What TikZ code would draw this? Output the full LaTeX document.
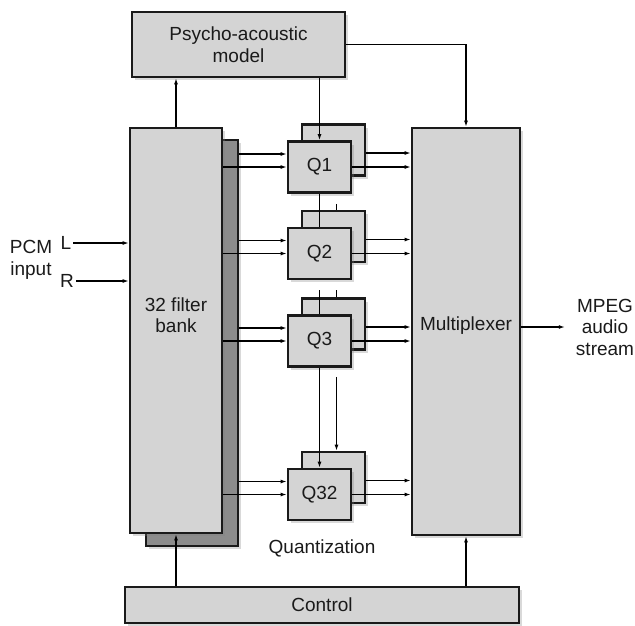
\documentclass[tikz,border=0pt]{standalone}
\usepackage{fontspec}
\setmainfont{Liberation Sans}
\usetikzlibrary{arrows.meta,shadows,calc}
\definecolor{mpfill}{HTML}{D4D4D4}
\definecolor{mpdark}{HTML}{8C8C8C}
\definecolor{mpline}{HTML}{1A1A1A}

\begin{document}
\begin{tikzpicture}[x=1pt, y=-1pt,
  txt/.style={font=\fontsize{19}{21.5}\selectfont, text=mpline, align=center, inner sep=2pt},
  blk/.style={txt, draw=mpline, line width=2.8pt, fill=mpfill,
    drop shadow={shadow xshift=3pt, shadow yshift=-3pt, opacity=0.3}},
  arr/.style={line width=1.1pt, -{Latex[length=6pt, width=4pt]}},
  wire/.style={line width=1.1pt}]
  \useasboundingbox (0,0) rectangle (635,625);
  % blocks
  \node[blk, minimum width=213pt, minimum height=65pt] (psy) at (238.5,44.5) {Psycho-acoustic\\model};
  \node[blk, fill=mpdark, minimum width=92pt, minimum height=406pt] (fbb) at (192,343) {};
  \node[blk, minimum width=92pt, minimum height=405pt] (fb) at (176,330.5) {};
  \node[txt] (fbl) at (176,315) {32 filter\\bank};
  \foreach \n/\y in {1/167, 2/253.5, 3/341, 32/494.5} {
    \node[blk, minimum width=63pt, minimum height=51pt] (qb\n) at (333.5,\y-17) {};
    \node[blk, minimum width=63pt, minimum height=51pt] (q\n) at (319.5,\y) {Q\n};
  }
  \node[blk, minimum width=108pt, minimum height=407pt] (mux) at (466,331.5) {};
  \node[txt] (muxl) at (466,326) {Multiplexer};
  \node[blk, minimum width=394pt, minimum height=36pt] (ctl) at (322,605) {Control};
  % labels
  \node[txt] (pcm) at (31,260) {PCM\\input};
  \node[txt] (inl) at (66,243) {L};
  \node[txt] (inr) at (67,281) {R};
  \node[txt] (out) at (605,327) {MPEG\\audio\\stream};
  \node[txt] (qlab) at (322,548) {Quantization};
  % connectors
  \draw[arr] (inl.east) -- (inl -| fb.west);
  \draw[arr] (inr.east) -- (inr -| fb.west);
  \draw[arr] (fb.north) -- (fb.north |- psy.south);
  \draw[arr] (psy.south -| q1) -- (q1.north);
  \draw[arr] (psy.east) -| (mux.north);
  \foreach \n in {1,2,3,32} {
    \draw[arr] ($(q\n.west -| fbb.east)+(0,-13)$) -- ($(q\n.west)+(0,-13)$);
    \draw[arr] (q\n.west -| fb.east) -- (q\n.west);
    \draw[arr] ($(q\n.east -| qb\n.east)+(0,-14)$) -- ($(q\n.east -| mux.west)+(0,-14)$);
    \draw[arr] (q\n.east) -- (q\n.east -| mux.west);
  }
  \draw[wire] (q1.south) -- (q2.north);
  \draw[wire] ($(q2.south)+(0,10)$) -- (q3.north);
  \draw[arr] (q3.south) -- (q32.north);
  \draw[wire] ($(q1.south)+(17,10)$) coordinate (t1) -- (t1 |- qb2.north);
  \draw[wire] ($(q2.south)+(17,10)$) coordinate (t2) -- (t2 |- qb3.north);
  \draw[arr] ($(q3.south)+(17,9)$) coordinate (t3) -- (t3 |- qb32.north);
  \draw[arr] (ctl.north -| fb) -- (fb.south);
  \draw[arr] (ctl.north -| mux) -- (mux.south);
  \draw[arr, shorten >=9pt] (out.west -| mux.east) -- (out.west);
\end{tikzpicture}
\end{document}
